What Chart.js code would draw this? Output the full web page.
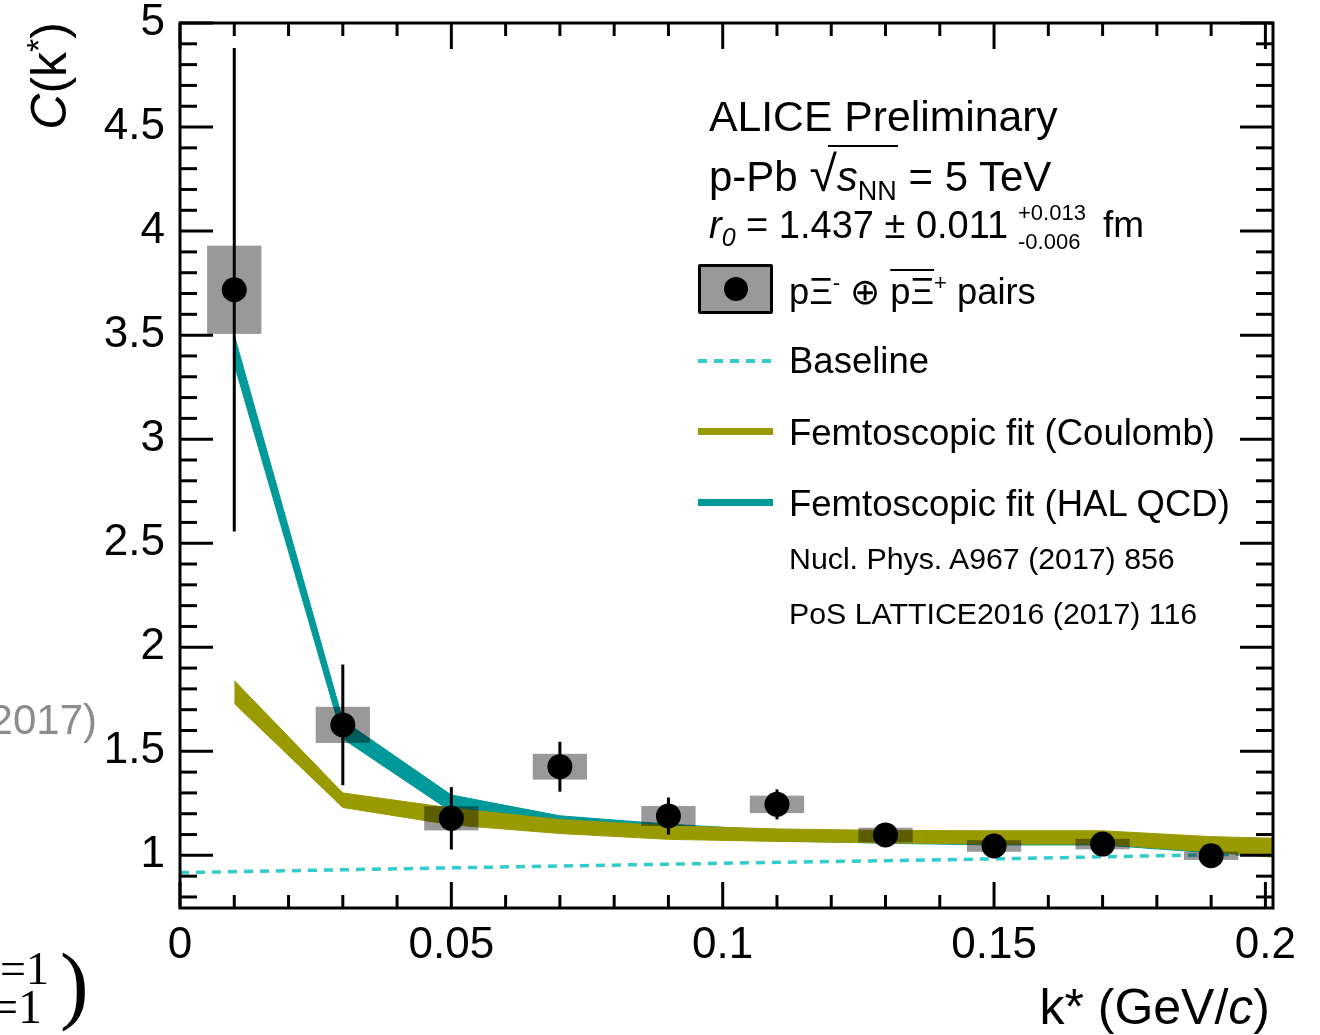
<!DOCTYPE html>
<html><head><meta charset="utf-8">
<script src="https://cdn.jsdelivr.net/npm/chart.js@4"></script>
<style>
html,body{margin:0;padding:0;background:#fff;}
#wrap{position:relative;width:1320px;height:1035px;overflow:hidden;font-family:"Liberation Sans",Arial,Helvetica,sans-serif;color:#000;}
canvas{position:absolute;left:0;top:0;}
.t{position:absolute;white-space:nowrap;line-height:1;}
.sp{position:relative;}
.serif{font-family:'Liberation Serif','DejaVu Serif',serif;}
</style></head><body>
<div id="wrap">
<canvas id="c" width="1320" height="1035"></canvas>

<div class="t" style="left:709px;top:95px;font-size:42.7px;">ALICE Preliminary</div>
<div class="t" style="left:709px;top:149px;font-size:42px;">p-Pb <span style="font-size:50px;">√</span><i>s</i><span class="sp" style="font-size:27px;top:9px;">NN</span> = 5 TeV</div>
<div style="position:absolute;left:828px;top:145px;width:70px;height:2px;background:#000;"></div>
<div class="t" style="left:709px;top:206px;font-size:38px;"><i>r</i><span class="sp" style="font-size:25px;top:8px;"><i>0</i></span> = 1.437 ± 0.011</div>
<div class="t" style="left:1018px;top:202px;font-size:22px;">+0.013</div>
<div class="t" style="left:1018px;top:231px;font-size:22px;">-0.006</div>
<div class="t" style="left:1103px;top:206px;font-size:37px;">fm</div>

<div style="position:absolute;left:698px;top:264px;width:75px;height:50px;box-sizing:border-box;border:3px solid #000;border-radius:2px;background:#999;"></div>
<div style="position:absolute;left:724px;top:277px;width:24px;height:24px;border-radius:50%;background:#000;"></div>
<div class="t" style="left:789px;top:274px;font-size:36.3px;">pΞ<span class="sp" style="font-size:22px;top:-14px;">-</span> ⊕ <span style="text-decoration:overline;text-decoration-thickness:2px;">pΞ</span><span class="sp" style="font-size:22px;top:-14px;">+</span> pairs</div>

<div style="position:absolute;left:698px;top:359px;width:75px;height:3.5px;background:repeating-linear-gradient(to right,#33cccc 0 9px,transparent 9px 16px);"></div>
<div class="t" style="left:789px;top:343px;font-size:36.5px;">Baseline</div>

<div style="position:absolute;left:698px;top:428px;width:75px;height:7px;background:#999900;"></div>
<div class="t" style="left:789px;top:415px;font-size:36.5px;">Femtoscopic fit (Coulomb)</div>

<div style="position:absolute;left:698px;top:499px;width:75px;height:7px;background:#009999;"></div>
<div class="t" style="left:789px;top:486px;font-size:36.5px;">Femtoscopic fit (HAL QCD)</div>

<div class="t" style="left:789px;top:544px;font-size:30.3px;">Nucl. Phys. A967 (2017) 856</div>
<div class="t" style="left:789px;top:599px;font-size:30.3px;">PoS LATTICE2016 (2017) 116</div>

<div class="t" style="right:50px;top:982px;font-size:50px;">k* (GeV/<i>c</i>)</div>
<div class="t" style="left:24px;top:222px;width:200px;text-align:right;font-size:50px;transform:rotate(-90deg);transform-origin:left top;"><i>C</i>(k<span class="sp" style="font-size:34px;top:-16px;">*</span>)</div>

<div class="t" style="right:1223px;top:699px;font-size:42px;color:#8c8c8c;">2017)</div>
<div class="t serif" style="left:0px;top:946px;font-size:46px;">=1</div>
<div class="t serif" style="left:-9px;top:983px;font-size:48px;">=1</div>
<div class="t serif" style="left:60px;top:941px;font-size:86px;">)</div>
</div>

<script>
// ---- data ----
const kStar   = [0.01, 0.03, 0.05, 0.07, 0.09, 0.11, 0.13, 0.15, 0.17, 0.19];
const cVal    = [3.718, 1.627, 1.178, 1.426, 1.189, 1.245, 1.098, 1.045, 1.054, 0.998];
const statErr = [1.162, 0.290, 0.150, 0.120, 0.089, 0.072, 0.020, 0.015, 0.015, 0.012];
const sysErr  = [0.212, 0.087, 0.058, 0.062, 0.048, 0.042, 0.035, 0.028, 0.025, 0.020];
const binWidth = 0.01;

const fitX          = [0.01, 0.03, 0.05, 0.07, 0.09, 0.11, 0.13, 0.15, 0.17, 0.19, 0.202];
const coulombUpper  = [1.84, 1.30, 1.227, 1.172, 1.142, 1.127, 1.120, 1.118, 1.118, 1.090, 1.082];
const coulombLower  = [1.73, 1.23, 1.147, 1.105, 1.077, 1.067, 1.060, 1.054, 1.054, 1.016, 0.990];
const halUpper      = [3.50, 1.65, 1.290, 1.190, 1.150, 1.120, 1.100, 1.090, 1.090, 1.060, 1.050];
const halLower      = [3.36, 1.56, 1.210, 1.140, 1.100, 1.070, 1.058, 1.050, 1.050, 1.012, 1.000];

const baselineX = [0, 0.05, 0.1, 0.15, 0.202];
const baselineY = [0.917, 0.940, 0.962, 0.983, 1.009];

const xTicks = [0, 0.05, 0.1, 0.15, 0.2];
const xTickLabels = ['0', '0.05', '0.1', '0.15', '0.2'];
const yTicks = [1, 1.5, 2, 2.5, 3, 3.5, 4, 4.5, 5];
const yTickLabels = ['1', '1.5', '2', '2.5', '3', '3.5', '4', '4.5', '5'];

const xy = (xs, ys) => xs.map((x, i) => ({x: x, y: ys[i]}));

const OLIVE = '#999900', TEAL = '#009999', CYAN = '#33cccc';
const FONT = "'Liberation Sans', Arial, Helvetica, sans-serif";

const errPlugin = {
  id: 'errs',
  beforeDatasetDraw(chart, args) {
    if (args.index !== 5) return;
    const {ctx, scales: {x, y}, chartArea: a} = chart;
    ctx.save();
    ctx.beginPath(); ctx.rect(a.left, a.top, a.width, a.height); ctx.clip();
    ctx.fillStyle = 'rgba(0,0,0,0.4)';
    kStar.forEach((k, i) => {
      const x0 = x.getPixelForValue(k - binWidth / 2), x1 = x.getPixelForValue(k + binWidth / 2);
      const y0 = y.getPixelForValue(cVal[i] + sysErr[i]), y1 = y.getPixelForValue(cVal[i] - sysErr[i]);
      ctx.fillRect(x0, y0, x1 - x0, y1 - y0);
    });
    ctx.strokeStyle = '#000'; ctx.lineWidth = 3;
    kStar.forEach((k, i) => {
      const px = x.getPixelForValue(k);
      ctx.beginPath();
      ctx.moveTo(px, y.getPixelForValue(cVal[i] + statErr[i]));
      ctx.lineTo(px, y.getPixelForValue(cVal[i] - statErr[i]));
      ctx.stroke();
    });
    ctx.restore();
  }
};

const framePlugin = {
  id: 'frame',
  afterDatasetsDraw(chart) {
    const {ctx, scales: {x, y}, chartArea: a} = chart;
    ctx.save();
    ctx.strokeStyle = '#000'; ctx.lineWidth = 3; ctx.lineCap = 'butt';
    const seg = (x0, y0, x1, y1) => { ctx.beginPath(); ctx.moveTo(x0, y0); ctx.lineTo(x1, y1); ctx.stroke(); };
    for (let i = 0; i <= 20; i++) {
      const px = x.getPixelForValue(i / 100);
      const L = (i % 5 === 0) ? 26 : 13;
      seg(px, a.bottom, px, a.bottom - L);
      seg(px, a.top, px, a.top + L);
    }
    for (let i = 8; i <= 50; i++) {
      const py = y.getPixelForValue(i / 10);
      const L = (i % 5 === 0) ? 33 : 17;
      seg(a.left, py, a.left + L, py);
      seg(a.right, py, a.right - L, py);
    }
    ctx.strokeRect(a.left, a.top, a.width, a.height);
    ctx.restore();
  }
};

new Chart(document.getElementById('c'), {
  type: 'line',
  data: {
    datasets: [
      {data: xy(baselineX, baselineY), borderColor: CYAN, borderWidth: 3.5, borderDash: [9, 7], pointRadius: 0, fill: false, order: 6},
      {data: xy(fitX, halLower), borderColor: TEAL, borderWidth: 1, pointRadius: 0, fill: false, order: 5},
      {data: xy(fitX, halUpper), borderColor: TEAL, backgroundColor: TEAL, borderWidth: 1, pointRadius: 0, fill: '-1', order: 4},
      {data: xy(fitX, coulombLower), borderColor: OLIVE, borderWidth: 1, pointRadius: 0, fill: false, order: 3},
      {data: xy(fitX, coulombUpper), borderColor: OLIVE, backgroundColor: OLIVE, borderWidth: 1, pointRadius: 0, fill: '-1', order: 2},
      {data: xy(kStar, cVal), showLine: false, pointRadius: 12.5, pointBackgroundColor: '#000', pointBorderWidth: 0, pointBorderColor: '#000', order: 0}
    ]
  },
  options: {
    responsive: false,
    animation: false,
    layout: {padding: {left: 0, top: 23, right: 47, bottom: 0}},
    plugins: {legend: {display: false}, tooltip: {enabled: false}},
    elements: {line: {tension: 0}},
    scales: {
      x: {
        type: 'linear', min: 0, max: 0.2014,
        grid: {display: false, drawTicks: false},
        border: {display: false},
        afterBuildTicks: s => { s.ticks = xTicks.map(v => ({value: v})); },
        afterFit: s => { s.height = 127; s.paddingLeft = 0; s.paddingRight = 0; },
        ticks: {autoSkip: false, maxRotation: 0, padding: 11, color: '#000',
          font: {family: FONT, size: 44},
          callback: (v, i) => xTickLabels[i]}
      },
      y: {
        type: 'linear', min: 0.747, max: 5,
        grid: {display: false, drawTicks: false},
        border: {display: false},
        afterBuildTicks: s => { s.ticks = yTicks.map(v => ({value: v})); },
        afterFit: s => { s.width = 180; s.paddingTop = 0; s.paddingBottom = 0; },
        ticks: {autoSkip: false, padding: 15, color: '#000',
          font: {family: FONT, size: 44},
          callback: (v, i) => yTickLabels[i]}
      }
    }
  },
  plugins: [errPlugin, framePlugin]
});
</script>
</body></html>
